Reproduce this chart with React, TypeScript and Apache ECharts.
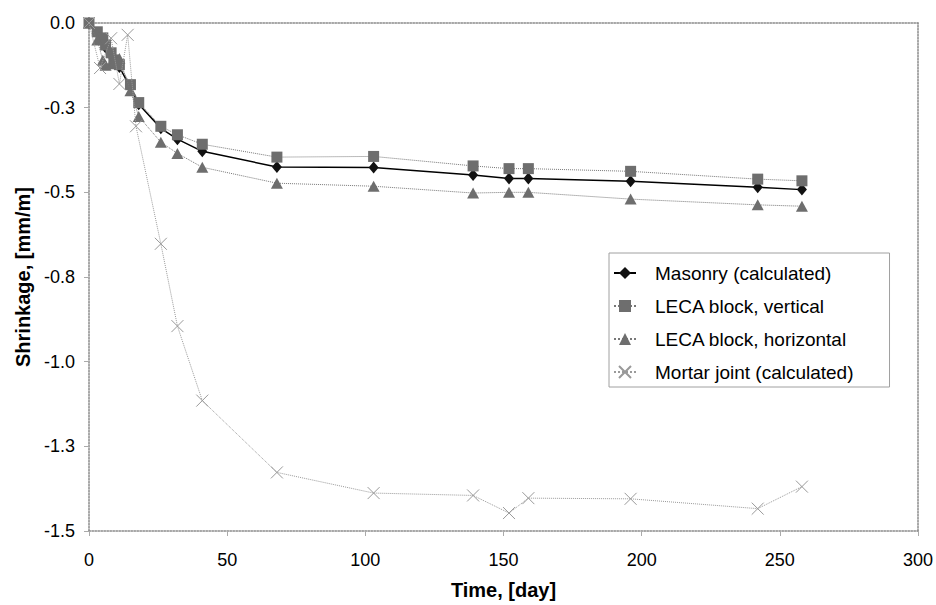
import React, { useEffect, useRef } from "react";
import * as echarts from "echarts";

// Measurement times (days) for masonry and LECA blocks
const days = [0, 3, 5, 6, 8, 9, 11, 15, 18, 26, 32, 41, 68, 103, 139, 152, 159, 196, 242, 258];
const masonry = [0, -0.03, -0.05, -0.072, -0.095, -0.115, -0.13, -0.19, -0.24, -0.311, -0.343, -0.379, -0.425, -0.427, -0.449, -0.459, -0.459, -0.467, -0.485, -0.492];
const lecaVertical = [0, -0.026, -0.044, -0.065, -0.088, -0.109, -0.123, -0.182, -0.235, -0.305, -0.33, -0.358, -0.396, -0.394, -0.422, -0.43, -0.43, -0.438, -0.461, -0.466];
const lecaHorizontal = [0, -0.05, -0.11, -0.125, -0.12, -0.115, -0.105, -0.2, -0.276, -0.352, -0.385, -0.426, -0.473, -0.482, -0.502, -0.5, -0.5, -0.52, -0.537, -0.541];

// Mortar joint (calculated)
const mortarDays = [0, 4, 8, 11, 14, 17, 26, 32, 41, 68, 103, 139, 152, 159, 196, 242, 258];
const mortar = [0, -0.133, -0.045, -0.18, -0.035, -0.305, -0.652, -0.895, -1.115, -1.327, -1.388, -1.395, -1.447, -1.403, -1.405, -1.434, -1.369];

const seriesNames = [
  "Masonry (calculated)",
  "LECA block, vertical",
  "LECA block, horizontal",
  "Mortar joint (calculated)",
];

const FONT = "'Liberation Sans', Arial, sans-serif";

const fmtY = (v: number) => {
  const s = (Math.round(Math.abs(v) * 10 + 1e-9) / 10).toFixed(1);
  return v < -1e-9 ? "-" + s : s;
};

export default function App() {
  const ref = useRef<HTMLDivElement>(null);
  useEffect(() => {
    document.body.style.margin = "0";
    if (!ref.current) return;
    const chart = echarts.init(ref.current, undefined, { renderer: "svg" });
    const frameLine = { color: "#8a8a8a", width: 1.5, type: "dotted" as const };
    const pair = (xs: number[], ys: number[]) => xs.map((x, i) => [x, ys[i]]);
    chart.setOption({
      animation: false,
      backgroundColor: "#ffffff",
      textStyle: { fontFamily: FONT },
      grid: { left: 89, right: 17, top: 23, bottom: 71, containLabel: false },
      legend: {
        orient: "vertical",
        left: 609,
        top: 253,
        padding: [10, 36, 5, 4],
        itemGap: 13,
        itemWidth: 22,
        itemHeight: 15,
        borderColor: "#a0a0a0",
        borderWidth: 1,
        backgroundColor: "#ffffff",
        textStyle: { fontSize: 19, color: "#000", fontFamily: FONT, lineHeight: 20, padding: [0, 0, 0, 14] },
        data: seriesNames,
      },
      xAxis: [
        {
          type: "value",
          min: 0,
          max: 300,
          interval: 50,
          name: "Time, [day]",
          nameLocation: "middle",
          nameGap: 49,
          nameTextStyle: { fontSize: 20, fontWeight: "bold", color: "#000", fontFamily: FONT },
          axisLine: { show: true, onZero: false, lineStyle: frameLine },
          axisTick: { show: true, length: 5, lineStyle: { color: "#aaaaaa" } },
          axisLabel: { fontSize: 18, color: "#000", margin: 20, fontFamily: FONT },
          splitLine: { show: false },
        },
        {
          type: "value",
          position: "top",
          min: 0,
          max: 300,
          axisLine: { show: true, onZero: false, lineStyle: frameLine },
          axisTick: { show: false },
          axisLabel: { show: false },
          splitLine: { show: false },
        },
      ],
      yAxis: [
        {
          type: "value",
          min: -1.5,
          max: 0,
          interval: 0.25,
          name: "Shrinkage, [mm/m]",
          nameLocation: "middle",
          nameGap: 56,
          nameTextStyle: { fontSize: 20, fontWeight: "bold", color: "#000", fontFamily: FONT },
          axisLine: { show: true, onZero: false, lineStyle: frameLine },
          axisTick: { show: true, length: 5, lineStyle: { color: "#aaaaaa" } },
          axisLabel: { fontSize: 18, color: "#000", margin: 14, fontFamily: FONT, formatter: fmtY },
          splitLine: { show: false },
        },
        {
          type: "value",
          position: "right",
          min: -1.5,
          max: 0,
          axisLine: { show: true, onZero: false, lineStyle: frameLine },
          axisTick: { show: false },
          axisLabel: { show: false },
          splitLine: { show: false },
        },
      ],
      series: [
        {
          name: seriesNames[0],
          type: "line",
          data: pair(days, masonry),
          symbol: "diamond",
          symbolSize: [10, 12],
          lineStyle: { color: "#000", width: 1.5 },
          itemStyle: { color: "#111" },
          z: 3,
        },
        {
          name: seriesNames[1],
          type: "line",
          data: pair(days, lecaVertical),
          symbol: "rect",
          symbolSize: 11,
          lineStyle: { color: "#777", width: 1, type: "dotted" },
          itemStyle: { color: "#6e6e6e" },
          z: 4,
        },
        {
          name: seriesNames[2],
          type: "line",
          data: pair(days, lecaHorizontal),
          symbol: "triangle",
          symbolSize: [12, 11],
          lineStyle: { color: "#777", width: 1, type: "dotted" },
          itemStyle: { color: "#6e6e6e" },
          z: 5,
        },
        {
          name: seriesNames[3],
          type: "line",
          data: pair(mortarDays, mortar),
          symbol: "path://M0,0L10,10M10,0L0,10",
          symbolSize: 12,
          lineStyle: { color: "#9a9a9a", width: 1, type: "dotted" },
          itemStyle: { color: "none", borderColor: "#999999", borderWidth: 1 },
          z: 6,
        },
      ],
    });
    return () => chart.dispose();
  }, []);
  return <div ref={ref} style={{ width: 936, height: 605 }} />;
}
